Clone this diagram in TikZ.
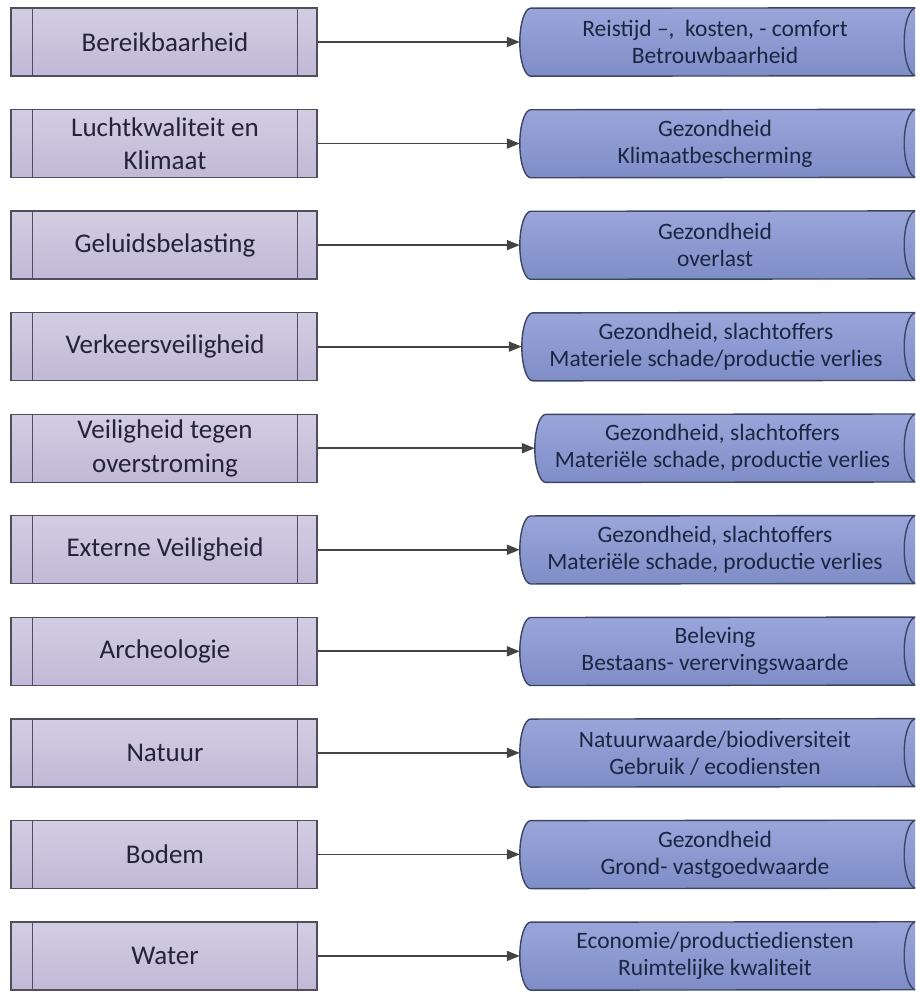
\documentclass[tikz,border=0pt]{standalone}
\usepackage{fontspec}
\setmainfont{Carlito}
\usetikzlibrary{arrows.meta}
\definecolor{procTop}{HTML}{D3CDE3}
\definecolor{procBot}{HTML}{C1B9D6}
\definecolor{procLine}{HTML}{4E4E5C}
\definecolor{cylTop}{HTML}{9AA6DA}
\definecolor{cylBot}{HTML}{7F8DC7}
\definecolor{cylLine}{HTML}{3B4664}
\definecolor{txtDark}{HTML}{23233A}
\definecolor{txtNavy}{HTML}{1C2542}
\definecolor{arrowGray}{HTML}{444444}
\tikzset{
  procbox/.style={rectangle, draw=procLine, line width=1.4pt,
    top color=procTop, bottom color=procBot,
    minimum width=306pt, minimum height=68pt, inner sep=0pt},
  proclabel/.style={text=txtDark, align=center,
    font=\fontsize{27}{33.5}\selectfont, inner sep=0pt},
  effectbody/.style={rectangle, inner sep=0pt, minimum height=68pt},
  effectfill/.style={draw=cylLine, line width=1.4pt, top color=cylTop, bottom color=cylBot},
  effectlabel/.style={text=txtNavy, align=center,
    font=\fontsize{23.5}{27}\selectfont, inner sep=0pt},
  flow/.style={draw=arrowGray, line width=1.8pt,
    -{Triangle[length=13pt,width=10pt]}}
}
\begin{document}
\begin{tikzpicture}[x=1pt,y=-1pt]
\useasboundingbox (0,0) rectangle (915,992);
\clip (0,0) rectangle (915,992);
\foreach \i/\cx/\lab/\eff in {
  0/520/{Bereikbaarheid}/{Reistijd --,\ \ kosten, - comfort\\Betrouwbaarheid},
  1/520/{Luchtkwaliteit en\\Klimaat}/{Gezondheid\\Klimaatbescherming},
  2/520/{Geluidsbelasting}/{Gezondheid\\overlast},
  3/522/{Verkeersveiligheid}/{Gezondheid, slachtoffers\\Materiele schade/productie verlies},
  4/535/{Veiligheid tegen\\overstroming}/{Gezondheid, slachtoffers\\Materiële schade, productie verlies},
  5/520/{Externe Veiligheid}/{Gezondheid, slachtoffers\\Materiële schade, productie verlies},
  6/520/{Archeologie}/{Beleving\\Bestaans- verervingswaarde},
  7/520/{Natuur}/{Natuurwaarde/biodiversiteit\\Gebruik / ecodiensten},
  8/520/{Bodem}/{Gezondheid\\Grond- vastgoedwaarde},
  9/520/{Water}/{Economie/productiediensten\\Ruimtelijke kwaliteit}} {
  \pgfmathsetmacro{\yc}{42+101.55*\i}
  \pgfmathsetmacro{\cw}{928-\cx}
  \pgfmathsetmacro{\cm}{(928+\cx)/2}
  \pgfmathsetmacro{\tx}{(910+\cx)/2}
  % impact category box with side bars
  \node[procbox] (l\i) at (164,\yc) {};
  \draw[procLine, line width=1.2pt] ([xshift=22pt]l\i.north west) -- ([xshift=22pt]l\i.south west);
  \draw[procLine, line width=1.2pt] ([xshift=-20pt]l\i.north east) -- ([xshift=-20pt]l\i.south east);
  \node[proclabel] (lt\i) at (165,\yc) {\lab};
  % effect cylinder lying on its side, front face towards the right
  \node[effectbody, minimum width=\cw pt] (r\i) at (\cm,\yc) {};
  \path[effectfill] ([xshift=11pt]r\i.south west)
      arc[start angle=90, end angle=270, x radius=11, y radius=34]
      -- ([xshift=-12pt]r\i.north east)
      arc[start angle=270, end angle=450, x radius=12, y radius=34]
      -- cycle;
  \draw[cylLine, line width=1.4pt] ([xshift=-12pt]r\i.north east)
      arc[start angle=270, end angle=90, x radius=12, y radius=34];
  \node[effectlabel] (rt\i) at (\tx,\yc) {\eff};
  \draw[flow] (l\i.east) -- (r\i.west);
}
\end{tikzpicture}
\end{document}
